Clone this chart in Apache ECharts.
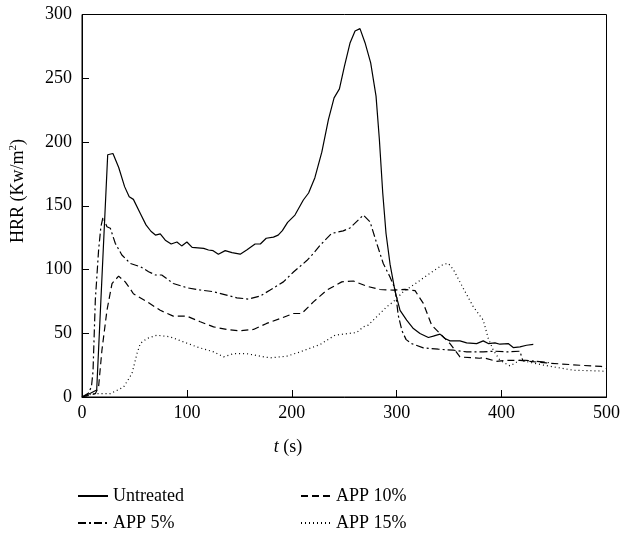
<!DOCTYPE html>
<html>
<head>
<meta charset="utf-8">
<script src="https://cdn.jsdelivr.net/npm/echarts@6/dist/echarts.min.js"></script>
<style>html,body{margin:0;padding:0;background:#fff}#c{width:623px;height:533px}</style>
</head>
<body>
<div id="c"></div>
<script>
const seriesNames = ['Untreated', 'APP 5%', 'APP 10%', 'APP 15%'];
const xTicks = [0, 100, 200, 300, 400, 500];
const yTicks = [0, 50, 100, 150, 200, 250, 300];

const untreated = [[0,0],[8,3],[14,5.5],[24.5,190],[29.5,191],[35,180],[40.6,165],[45,157],[49,155],[55.6,144],[61,135],[65.7,130],[70,127],[74.6,128],[79.4,123],[85,120],[90.5,121.6],[95,118.5],[100,121.6],[105,117.4],[116,116.6],[120.6,115.3],[125,114.8],[130,112],[136.5,114.8],[143,113.2],[150.8,112],[157,115.3],[165,120],[170,120],[175.6,124.5],[182.5,125.4],[187,127],[191,130.5],[196,137],[203,142.7],[211,154.5],[216,160],[222,172],[228.6,192],[234.9,217.6],[240.3,234.6],[245.4,241.7],[250.2,259.5],[255.6,277.9],[260.3,287],[265,288.9],[269.8,277.9],[275.2,262],[280.3,236],[283.5,201.8],[286.7,160],[289.8,128.4],[293.7,104],[298.4,83],[303.2,68],[309.5,60.3],[315.9,53.7],[322.2,49.8],[330.2,46.7],[334.9,47.7],[341.3,49.3],[346,45.9],[350.8,44],[360.3,44],[366.7,42.5],[376.2,41.9],[382.5,44],[387.3,41.9],[393.7,42.5],[398.4,41.4],[406.3,41.9],[411.1,38.8],[417.5,39.3],[423.8,40.6],[430.2,41.2]];

const app5 = [[0,0],[6,3],[9,8],[10.5,20],[12.7,76],[15.8,115],[18,133.5],[20,141],[23.8,133.5],[27,132.4],[31.7,120.6],[38,111.4],[46,104.8],[55.6,102.2],[63.5,98.3],[70,95.7],[76,95.7],[87,89],[100,85.7],[112.7,83.9],[125.4,82.6],[135,80.5],[147.6,77.8],[158.7,76.8],[169.8,79.2],[179.4,83.9],[192,90.3],[201.6,98],[214.3,107],[220.6,112.6],[227,119],[238,128.3],[249,130.3],[255.5,132.6],[268.2,142.7],[274.6,137.4],[281,120.4],[287.2,104.7],[293.6,94.2],[298.4,85],[301.5,64],[305,52],[309,45],[314.3,41.9],[325.4,38.5],[339.7,37.5],[354,36.7],[366.7,35.4],[382.5,35.4],[393.7,35.9],[404.8,35.4],[417.5,35.9],[420,29],[445,27]];

const app10 = [[0,0],[12.7,2.6],[15.8,7.9],[19,36.7],[23.8,68],[28.6,89],[34.9,94.8],[41.2,90.3],[45.9,85],[49,81],[62,74.7],[74.6,68],[87,63.4],[100,63.4],[112.7,59],[125.4,55],[138,53],[150.8,51.9],[163.5,53],[176,57.7],[188.9,61.5],[201.5,65.5],[209.5,65.5],[220.6,74.6],[233.3,83.8],[247.6,90.3],[258.7,91],[271.4,86.9],[284,84.3],[296.8,83.8],[307.9,84.4],[317.5,83.4],[325.4,73.4],[333.3,56.4],[341.3,49.8],[350.8,41.9],[360.3,31.4],[379,30.4],[382.5,30.9],[395,28],[404.8,28.8],[417.5,28.7],[442.9,26.7],[474.6,24.9],[495,24],[500,22.5]];

const app15 = [[0,0],[11,2.6],[27,2.6],[39.7,7.9],[47.6,18.3],[52.4,34],[55.6,42],[62,45.9],[71.4,48.5],[84,47.2],[96.8,43.2],[109.5,39.3],[125.4,35.4],[135,31.5],[144.4,34],[157,34],[169.8,32],[179.4,30.7],[195.2,32],[208,35.4],[227,41.2],[241.3,48.5],[261.9,50.6],[268.2,55],[273,56.4],[284,65.5],[290.4,70.7],[296.8,74.7],[306.3,82.6],[319,89.6],[331.7,97],[344.4,104],[349.2,104.8],[354,100],[363.5,85.2],[373,70.8],[382.5,60.3],[387.3,45.9],[392.1,36.7],[398.4,28.8],[407.9,24.4],[417.5,28.8],[440,25],[468.3,21],[493.7,20.4],[500,20]];

const FONT = 'Liberation Serif';
const FS = 18;
const chart = echarts.init(document.getElementById('c'), null, {renderer: 'canvas'});

const dashTypes = ['solid', [8, 3, 2, 3], [7, 4], [1, 3]];
const datasets = [untreated, app5, app10, app15];

function legendAt(name, left, top) {
  return {
    data: [name], left: left, top: top, itemWidth: 30, itemHeight: 10, itemGap: 10,
    itemStyle: {opacity: 0},
    textStyle: {fontFamily: FONT, fontSize: FS, color: '#000'},
    selectedMode: false
  };
}

chart.setOption({
  animation: false,
  backgroundColor: '#fff',
  grid: {left: 82, right: 16, top: 14.5, bottom: 136, show: true, borderColor: '#000', borderWidth: 1},
  xAxis: {
    type: 'value', min: xTicks[0], max: xTicks[xTicks.length - 1], interval: 100,
    axisLine: {lineStyle: {color: '#000', width: 1}},
    axisTick: {inside: true, length: 7, lineStyle: {color: '#000'}},
    axisLabel: {fontFamily: FONT, fontSize: FS, color: '#000', margin: 7},
    splitLine: {show: false}
  },
  yAxis: {
    type: 'value', min: yTicks[0], max: yTicks[yTicks.length - 1], interval: 50,
    axisLine: {lineStyle: {color: '#000', width: 1}},
    axisTick: {inside: true, length: 7, lineStyle: {color: '#000'}},
    axisLabel: {fontFamily: FONT, fontSize: FS, color: '#000', margin: 10},
    splitLine: {show: false}
  },
  legend: [
    legendAt(seriesNames[0], 72, 482),
    legendAt(seriesNames[2], 295, 482),
    legendAt(seriesNames[1], 72, 509),
    legendAt(seriesNames[3], 295, 509)
  ],
  graphic: [
    {
      type: 'text', x: 288, y: 447,
      style: {
        text: '{i|t} (s)', textAlign: 'center', textVerticalAlign: 'middle',
        font: FS + 'px "Liberation Serif"', fill: '#000',
        rich: {i: {fontStyle: 'italic', fontFamily: FONT, fontSize: FS}}
      }
    },
    {
      type: 'text', x: 18, y: 191, rotation: Math.PI / 2,
      style: {
        text: 'HRR (Kw/m{s|2})', textAlign: 'center', textVerticalAlign: 'middle',
        font: FS + 'px "Liberation Serif"', fill: '#000',
        rich: {s: {fontFamily: FONT, fontSize: 11, verticalAlign: 'top', lineHeight: 21}}
      }
    }
  ],
  series: datasets.map((d, i) => ({
    name: seriesNames[i], type: 'line', data: d, symbol: 'none', smooth: false,
    lineStyle: {color: '#000', width: 1.2, type: dashTypes[i]},
    itemStyle: {color: '#000'}
  }))
});
</script>
</body>
</html>
